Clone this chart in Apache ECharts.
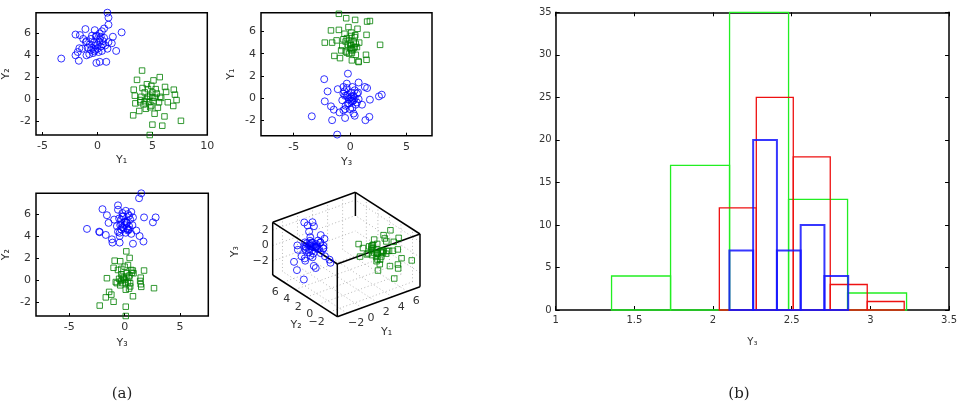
<!DOCTYPE html>
<html>
<head>
<meta charset="utf-8">
<script src="https://cdn.jsdelivr.net/npm/echarts@6/dist/echarts.min.js"></script>
<style>
html, body { margin: 0; padding: 0; background: #fff; }
#chart { width: 960px; height: 406px; }
</style>
</head>
<body>
<div id="chart"></div>
<script>
// two classes of 3-D samples, each point is [Y1, Y2, Y3]
var blueClass = [
	[0.9, 7.9, 1.5], [1.0, 7.45, 1.3], [1.0, 6.8, -0.6], [2.2, 6.1, -0.2], [-1.1, 6.4, -0.6],
	[-2.0, 5.9, -1.6], [-0.25, 6.3, 0.1], [0.4, 6.2, 0.6], [-3.3, 3.7, -1.15], [-2.0, 4.0, 1.35],
	[-1.7, 3.5, 1.7], [-1.0, 4.0, -0.45], [-0.1, 3.3, 0.75], [0.2, 3.4, -0.45], [0.8, 3.4, -1.1],
	[1.7, 4.4, -2.3], [1.4, 5.7, 0.75], [1.3, 5.1, -0.3], [-1.65, 4.65, -3.4], [0.3, 5.7, 2.8],
	[0.15, 5.25, 2.55], [0.6, 6.45, -2.0], [-0.15, 5.7, 1.75], [-0.6, 4.5, 1.05], [-1.8, 4.3, -0.45],
	[-0.3, 4.35, -2.25], [-0.75, 4.1, -1.7], [-1.05, 5.2, -1.45], [-1.3, 5.5, -0.95], [-1.6, 5.85, 0.4],
	[-1.4, 4.6, 0.3], [0.0, 5.0, 0.0], [0.3, 4.8, -0.2], [-0.3, 5.2, 0.2], [0.5, 5.3, 0.1],
	[-0.5, 4.7, -0.1], [0.2, 5.5, -0.3], [-0.2, 4.5, 0.3], [0.7, 4.9, 0.4], [-0.7, 5.0, -0.4],
	[0.1, 4.3, 0.1], [-0.1, 5.8, -0.1], [0.6, 5.6, -0.5], [-0.6, 5.5, 0.5], [0.4, 4.4, -0.6],
	[-0.4, 4.2, 0.6], [1.0, 5.2, 0.2], [-1.0, 5.3, 0.0], [0.9, 4.6, -0.3], [-0.9, 4.7, 0.2],
	[0.2, 6.0, 0.3], [-0.2, 4.9, -0.7], [0.5, 5.0, 0.7], [-0.5, 5.8, -0.2], [0.0, 4.6, 0.4]
];
var greenClass = [
	[4.06, 2.6, 0.15], [3.6, 1.75, -0.9], [5.67, 2.0, 0.45], [5.1, 1.7, -0.4], [4.5, 1.35, 0.3],
	[3.3, 0.85, 0.74], [6.95, 0.85, 1.75], [7.05, 0.4, 0.44], [7.6, -2.0, -1.0], [5.9, -2.45, 0.1],
	[5.0, -2.35, -2.25], [4.76, -3.3, 0.1], [3.25, -1.5, 0.75], [6.1, -1.6, -1.7], [3.8, -1.1, -1.4],
	[6.9, -0.64, 1.5], [4.8, -0.76, 2.65], [5.2, -1.35, -1.2], [3.9, -0.1, 1.4], [6.25, 0.65, 0.65],
	[5.0, 0.15, -1.6], [6.15, 1.1, -1.0], [7.2, -0.1, -0.35], [6.4, -0.3, -0.15], [5.7, 0.2, 1.45],
	[3.4, 0.3, 0.15], [3.45, -0.4, 1.45], [4.5, 0.0, 0.0], [4.8, 0.3, -0.2], [5.1, -0.2, 0.3],
	[4.3, 0.6, 0.2], [5.4, 0.5, -0.3], [4.2, -0.5, -0.4], [4.9, -0.6, 0.5], [5.6, -0.3, 0.1],
	[4.0, 0.2, -0.1], [4.6, 0.9, 0.6], [5.3, 0.9, -0.6], [4.4, -0.9, 0.1], [5.0, 0.6, 0.8],
	[4.7, -0.3, -0.7], [5.8, 0.1, -0.5], [4.1, 1.0, -0.3], [5.5, -0.8, 0.4], [4.6, 0.2, 0.4],
	[5.2, 0.1, -0.1], [3.9, -0.3, 0.5], [4.9, 1.2, 0.0], [4.3, -0.2, -0.8]
];

// histograms of Y3 (bin edges + counts)
var greenEdges = [1.355, 1.73, 2.105, 2.48, 2.855, 3.23];
var greenCounts = [4, 17, 35, 13, 2];
var redEdges = [2.04, 2.275, 2.51, 2.745, 2.98, 3.215];
var redCounts = [12, 25, 18, 3, 1];
var blueEdges = [2.104, 2.255, 2.406, 2.557, 2.708, 2.859];
var blueCounts = [7, 20, 7, 10, 4];

// tick labels
var p1XTicks = [-5, 0, 5, 10];
var p23XTicks = [-5, 0, 5];
var pYTicks = [-2, 0, 2, 4, 6];
var cubeY1Ticks = [-2, 0, 2, 4, 6];
var cubeY2Ticks = [6, 4, 2, 0, -2];
var cubeY3Ticks = [-2, 0, 2];

// 3-D box: data ranges and screen directions of the three axes
var rangeY1 = [-3.3, 7.7], rangeY2 = [-3.3, 7.9], rangeY3 = [-3.8, 3.0];
var dirY1 = [82.7, 30], dirY2 = [-64.6, 41.7], dirY3 = [0, 52.7];

function cube(p, q, r) {
	return [dirY1[0] * p + dirY2[0] * q, dirY1[1] * p + dirY2[1] * q + dirY3[1] * r];
}
function nrm(v, rg) { return (v - rg[0]) / (rg[1] - rg[0]); }
function proj(pt) {
	return cube(nrm(pt[0], rangeY1), nrm(pt[1], rangeY2), nrm(pt[2], rangeY3));
}
function binRows(edges, counts) {
	var rows = [];
	for (var i = 0; i < counts.length; i++) rows.push([edges[i], edges[i + 1], counts[i]]);
	return rows;
}

var FONT = 'DejaVu Sans';
var TXT = '#333';

function scatterAxes(grid, xr, yr, xt, xname, yname, xgap) {
	return {
		x: {
			type: 'value', gridIndex: grid, min: xr[0], max: xr[1],
			name: xname, nameLocation: 'middle', nameGap: xgap,
			nameTextStyle: { color: TXT, fontSize: 11, fontFamily: FONT },
			axisLine: { show: false, onZero: false }, splitLine: { show: false },
			axisTick: { inside: true, length: 3, customValues: xt, lineStyle: { color: '#000' } },
			axisLabel: { customValues: xt, margin: 6, color: TXT, fontSize: 11, fontFamily: FONT }
		},
		y: {
			type: 'value', gridIndex: grid, min: yr[0], max: yr[1],
			name: yname, nameLocation: 'middle', nameGap: 24,
			nameTextStyle: { color: TXT, fontSize: 11, fontFamily: FONT },
			axisLine: { show: false, onZero: false }, splitLine: { show: false },
			axisTick: { inside: true, length: 3, customValues: pYTicks, lineStyle: { color: '#000' } },
			axisLabel: { customValues: pYTicks, margin: 5, color: TXT, fontSize: 11, fontFamily: FONT }
		}
	};
}

var a1 = scatterAxes(0, [-5.6, 10], [-3.3, 7.9], p1XTicks, 'Y\u2081', 'Y\u2082', 20);
var a2 = scatterAxes(1, [-7.9, 7.25], [-3.4, 7.7], p23XTicks, 'Y\u2083', 'Y\u2081', 21);
var a3 = scatterAxes(2, [-8.0, 7.55], [-3.3, 7.9], p23XTicks, 'Y\u2083', 'Y\u2082', 22);

var boxGrid = { show: true, borderColor: '#000', borderWidth: 1.5, backgroundColor: '#fff' };

var circleStyle = { color: 'rgba(0,0,0,0)', borderColor: '#0000ff', borderWidth: 1 };
var squareStyle = { color: 'rgba(0,0,0,0)', borderColor: '#008000', borderWidth: 1 };

function pair(i, j) {
	return function(p) { return [p[i], p[j]]; };
}

function scatter(grid, data, isBlue) {
	return {
		type: 'scatter', xAxisIndex: grid, yAxisIndex: grid, data: data,
		symbol: isBlue ? 'circle' : 'rect', symbolSize: isBlue ? 7 : 5.5,
		itemStyle: isBlue ? circleStyle : squareStyle, silent: true, z: 3
	};
}

function histSeries(rows, color, width) {
	return {
		type: 'custom', xAxisIndex: 4, yAxisIndex: 4, data: rows, silent: true,
		encode: { x: [0, 1], y: 2 },
		renderItem: function(params, api) {
			var a = api.coord([api.value(0), api.value(2)]);
			var b = api.coord([api.value(1), 0]);
			return {
				type: 'rect',
				shape: { x: a[0], y: a[1], width: b[0] - a[0], height: b[1] - a[1] },
				style: { fill: 'none', stroke: color, lineWidth: width }
			};
		}
	};
}

function cubeFrame(params, api) {
	var ch = [];
	var dotted = { stroke: '#9a9a9a', lineWidth: 0.7, lineDash: [1, 2.5] };
	var solid = { stroke: '#000', lineWidth: 1.5 };
	function seg(a, b, style) {
		var A = api.coord(cube(a[0], a[1], a[2]));
		var B = api.coord(cube(b[0], b[1], b[2]));
		ch.push({ type: 'line', shape: { x1: A[0], y1: A[1], x2: B[0], y2: B[1] }, style: style });
	}
	function txt(pos, s, dx, dy, align, rot) {
		var P = api.coord(pos);
		ch.push({
			type: 'text', x: P[0] + dx, y: P[1] + dy, rotation: rot || 0,
			style: { text: s, fill: TXT, fontSize: 11, fontFamily: FONT, align: align, verticalAlign: 'middle' }
		});
	}
	// dotted grid on the floor and the two back walls
	cubeY1Ticks.forEach(function(t) {
		var p = nrm(t, rangeY1);
		seg([p, 0, 0], [p, 1, 0], dotted);
		seg([p, 1, 0], [p, 1, 1], dotted);
	});
	cubeY2Ticks.forEach(function(t) {
		var q = nrm(t, rangeY2);
		seg([0, q, 0], [1, q, 0], dotted);
		seg([1, q, 0], [1, q, 1], dotted);
	});
	cubeY3Ticks.forEach(function(t) {
		var r = nrm(t, rangeY3);
		seg([0, 1, r], [1, 1, r], dotted);
		seg([1, 0, r], [1, 1, r], dotted);
	});
	// box edges
	seg([0, 0, 1], [1, 0, 1], solid);
	seg([1, 0, 1], [1, 1, 1], solid);
	seg([1, 1, 1], [0, 1, 1], solid);
	seg([0, 1, 1], [0, 0, 1], solid);
	seg([0, 0, 0], [0, 0, 1], solid);
	seg([1, 0, 0], [1, 0, 1], solid);
	seg([0, 1, 0], [0, 1, 1], solid);
	seg([1, 1, 0.55], [1, 1, 1], solid);
	seg([0, 0, 0], [1, 0, 0], solid);
	seg([0, 0, 0], [0, 1, 0], solid);
	// tick labels
	cubeY1Ticks.forEach(function(t) {
		txt(cube(nrm(t, rangeY1), 0, 0), String(t).replace('-', '\u2212'), 9, 10, 'center');
	});
	cubeY2Ticks.forEach(function(t) {
		txt(cube(0, nrm(t, rangeY2), 0), String(t).replace('-', '\u2212'), -5, 10, 'right');
	});
	cubeY3Ticks.forEach(function(t) {
		txt(cube(0, 1, nrm(t, rangeY3)), String(t).replace('-', '\u2212'), -4, 0, 'right');
	});
	// axis names
	txt(cube(0.5, 0, 0), 'Y\u2081', 8, 30, 'center');
	txt(cube(0, 0.5, 0), 'Y\u2082', -9, 29, 'center');
	txt(cube(0, 1, 0.5), 'Y\u2083', -38, 3, 'center', Math.PI / 2);
	return { type: 'group', children: ch };
}

var histLabel = { color: TXT, fontSize: 10, fontFamily: FONT };
var histTick = { inside: true, length: 4, lineStyle: { color: '#000' } };
var histLine = { show: true, onZero: false, lineStyle: { color: '#000', width: 1.5 } };

var option = {
	animation: false,
	backgroundColor: '#fff',
	grid: [
		Object.assign({ left: 36, top: 12.7, width: 171.3, height: 122.3 }, boxGrid),
		Object.assign({ left: 261, top: 12.7, width: 171, height: 123 }, boxGrid),
		Object.assign({ left: 36, top: 193.3, width: 172.3, height: 122.7 }, boxGrid),
		{ left: 272.7, top: 192.3, width: 147.3, height: 124.4 },
		{ left: 555.7, top: 12.3, width: 395, height: 297.7 }
	],
	xAxis: [
		a1.x, a2.x, a3.x,
		{ type: 'value', gridIndex: 3, min: dirY2[0], max: dirY1[0], show: false },
		{
			type: 'value', gridIndex: 4, min: 1, max: 3.5, interval: 0.5,
			name: 'Y\u2083', nameLocation: 'middle', nameGap: 27,
			nameTextStyle: { color: TXT, fontSize: 10, fontFamily: FONT },
			axisLine: histLine, axisTick: histTick, splitLine: { show: false },
			axisLabel: Object.assign({ margin: 5 }, histLabel)
		},
		{
			type: 'value', gridIndex: 4, min: 1, max: 3.5, interval: 0.5, position: 'top',
			axisLine: histLine, axisTick: histTick, splitLine: { show: false }, axisLabel: { show: false }
		}
	],
	yAxis: [
		a1.y, a2.y, a3.y,
		{ type: 'value', gridIndex: 3, min: 0, max: dirY1[1] + dirY2[1] + dirY3[1], show: false },
		{
			type: 'value', gridIndex: 4, min: 0, max: 35, interval: 5,
			axisLine: histLine, axisTick: histTick, splitLine: { show: false },
			axisLabel: Object.assign({ margin: 4 }, histLabel)
		},
		{
			type: 'value', gridIndex: 4, min: 0, max: 35, interval: 5, position: 'right',
			axisLine: histLine, axisTick: histTick, splitLine: { show: false }, axisLabel: { show: false }
		}
	],
	graphic: [
		{ type: 'text', x: 122, y: 394, style: { text: '(a)', fill: '#222', fontSize: 15, fontFamily: 'DejaVu Serif', align: 'center', verticalAlign: 'middle' } },
		{ type: 'text', x: 739, y: 394, style: { text: '(b)', fill: '#222', fontSize: 15, fontFamily: 'DejaVu Serif', align: 'center', verticalAlign: 'middle' } }
	],
	series: [
		scatter(0, blueClass.map(pair(0, 1)), true),
		scatter(0, greenClass.map(pair(0, 1)), false),
		scatter(1, greenClass.map(pair(2, 0)), false),
		scatter(1, blueClass.map(pair(2, 0)), true),
		scatter(2, blueClass.map(pair(2, 1)), true),
		scatter(2, greenClass.map(pair(2, 1)), false),
		{
			type: 'custom', xAxisIndex: 3, yAxisIndex: 3, data: [[0, 0]], silent: true, z: 1,
			renderItem: cubeFrame
		},
		Object.assign(scatter(3, blueClass.map(proj), true), { z: 2 }),
		Object.assign(scatter(3, greenClass.map(proj), false), { z: 2 }),
		histSeries(binRows(greenEdges, greenCounts), '#22ee22', 1.3),
		histSeries(binRows(redEdges, redCounts), '#ee1111', 1.3),
		histSeries(binRows(blueEdges, blueCounts), 'rgba(20,20,255,0.85)', 2)
	]
};

var chart = echarts.init(document.getElementById('chart'));
chart.setOption(option);
</script>
</body>
</html>
